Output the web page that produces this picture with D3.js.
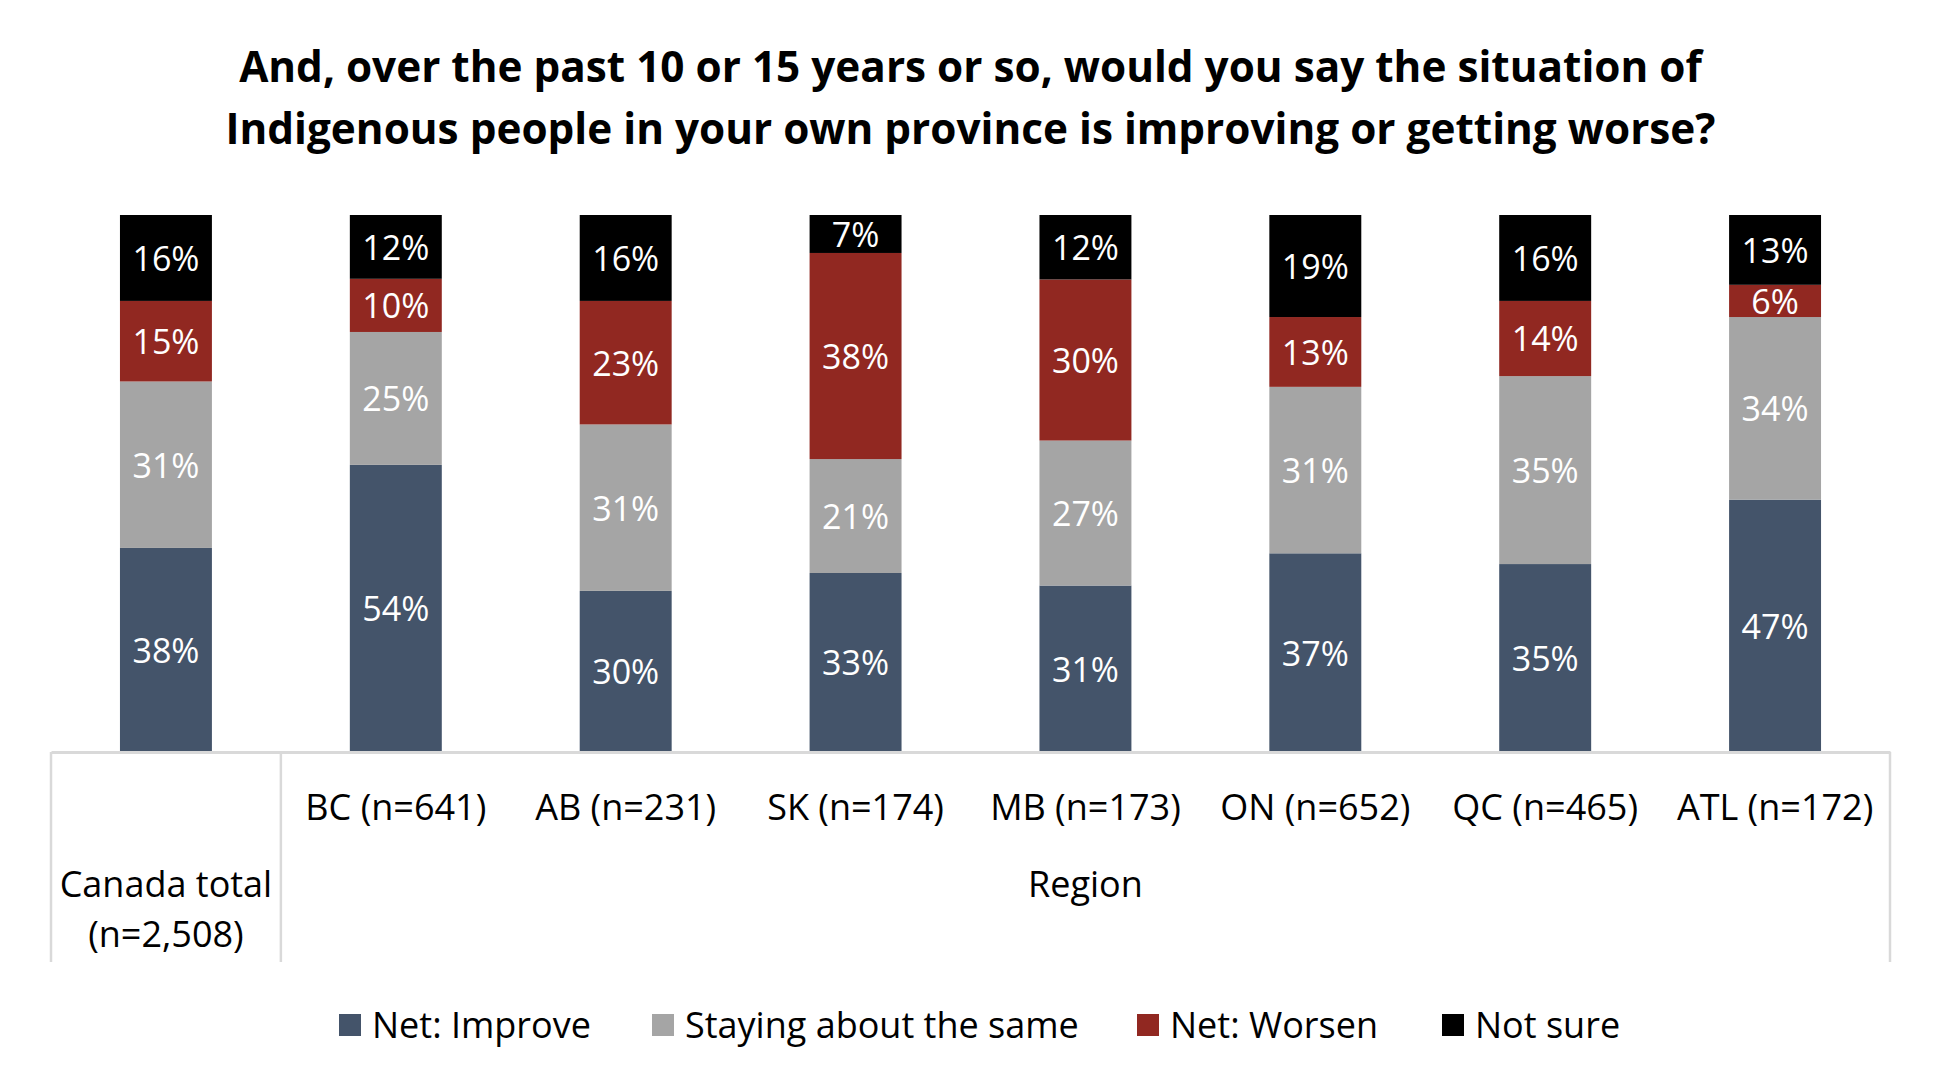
<!DOCTYPE html>
<html>
<head>
<meta charset="utf-8">
<script src="https://cdn.jsdelivr.net/npm/d3@7"></script>
<style>
  body { margin: 0; background: #fff; }
  text { font-family: "Open Sans", "Noto Sans", sans-serif; }
</style>
</head>
<body>
<div id="chart"></div>
<script>
var categories = ["Canada total", "BC (n=641)", "AB (n=231)", "SK (n=174)", "MB (n=173)", "ON (n=652)", "QC (n=465)", "ATL (n=172)"];
var seriesNames = ["Net: Improve", "Staying about the same", "Net: Worsen", "Not sure"];
var improve = [38, 54, 30, 33, 31, 37, 35, 47];
var same    = [31, 25, 31, 21, 27, 31, 35, 34];
var worsen  = [15, 10, 23, 38, 30, 13, 14, 6];
var notSure = [16, 12, 16, 7, 12, 19, 16, 13];
var colors = ["#44546A", "#A5A5A5", "#912821", "#000000"];
var titleLines = ["And, over the past 10 or 15 years or so, would you say the situation of",
                  "Indigenous people in your own province is improving or getting worse?"];

var width = 1941, height = 1090;
var margin = { top: 215, bottom: 338, left: 51, right: 51 };

var data = categories.map(function (c, i) {
  return { cat: c, "Net: Improve": improve[i], "Staying about the same": same[i],
           "Net: Worsen": worsen[i], "Not sure": notSure[i] };
});

var svg = d3.select("#chart").append("svg")
  .attr("width", width)
  .attr("height", height);

// title
svg.append("g")
  .selectAll("text")
  .data(titleLines)
  .join("text")
  .attr("x", width / 2)
  .attr("y", (d, i) => 82 + i * 62)
  .attr("text-anchor", "middle")
  .attr("font-size", 42.3)
  .attr("font-weight", "bold")
  .attr("fill", "#000")
  .text((d) => d);

x = d3.scaleBand()
  .domain(categories)
  .range([margin.left, width - margin.right])
  .paddingInner(0.6)
  .paddingOuter(0.3);

y = d3.scaleLinear()
  .domain([0, 1])
  .range([height - margin.bottom, margin.top]);

var color = d3.scaleOrdinal().domain(seriesNames).range(colors);

// 100% stacked
var stacked = d3.stack().keys(seriesNames).offset(d3.stackOffsetExpand)(data);

var layers = svg.append("g")
  .selectAll("g")
  .data(stacked)
  .join("g")
  .attr("fill", (d) => color(d.key));

layers.selectAll("rect")
  .data((d) => d)
  .join("rect")
  .attr("x", (d) => x(d.data.cat))
  .attr("y", (d) => y(d[1]))
  .attr("width", x.bandwidth())
  .attr("height", (d) => y(d[0]) - y(d[1]));

// value labels
svg.append("g")
  .selectAll("g")
  .data(stacked)
  .join("g")
  .selectAll("text")
  .data((d) => d.map((v) => ({ key: d.key, v: v })))
  .join("text")
  .attr("x", (d) => x(d.v.data.cat) + x.bandwidth() / 2)
  .attr("y", (d) => (y(d.v[0]) + y(d.v[1])) / 2)
  .attr("dy", "0.38em")
  .attr("text-anchor", "middle")
  .attr("font-size", 34)
  .attr("fill", "#fff")
  .text((d) => d.v.data[d.key] + "%");

// x axis (two levels)
var step = x.step();
var axisY = height - margin.bottom;

xAxis = (g) =>
  g.attr("transform", `translate(0,${axisY})`)
    .call(d3.axisBottom(x).tickSize(0).tickSizeOuter(0)
      .tickFormat((d) => (d == categories[0] ? "" : d)))
    .call((g) => g.select(".domain").attr("stroke", "#D9D9D9").attr("stroke-width", 3))
    .call((g) => g.selectAll(".tick text")
      .attr("y", 42)
      .attr("font-size", 36)
      .attr("font-family", "Open Sans, Noto Sans, sans-serif")
      .attr("fill", "#000"));

svg.append("g").attr("class", "xAxis").call(xAxis);

// group separators
var sepX = [x.range()[0], x(categories[1]) - step * x.paddingInner() / 2, x.range()[1]];
svg.append("g")
  .selectAll("line")
  .data(sepX)
  .join("line")
  .attr("x1", (d) => d)
  .attr("x2", (d) => d)
  .attr("y1", axisY)
  .attr("y2", axisY + 210)
  .attr("stroke", "#D9D9D9")
  .attr("stroke-width", 2.5);

// group labels
var canadaX = x(categories[0]) + x.bandwidth() / 2;
svg.append("text")
  .attr("x", canadaX)
  .attr("y", axisY + 145)
  .attr("text-anchor", "middle")
  .attr("font-size", 36)
  .text("Canada total");
svg.append("text")
  .attr("x", canadaX)
  .attr("y", axisY + 195)
  .attr("text-anchor", "middle")
  .attr("font-size", 36)
  .text("(n=2,508)");

svg.append("text")
  .attr("x", (sepX[1] + sepX[2]) / 2)
  .attr("y", axisY + 145)
  .attr("text-anchor", "middle")
  .attr("font-size", 36)
  .text("Region");

// legend
var legendX = [339, 652, 1137, 1442];
var legend = svg.append("g")
  .selectAll("g")
  .data(seriesNames)
  .join("g")
  .attr("transform", (d, i) => `translate(${legendX[i]},1014)`);

legend.append("rect")
  .attr("width", 22)
  .attr("height", 22)
  .attr("fill", (d) => color(d));

legend.append("text")
  .attr("x", 33)
  .attr("y", 11)
  .attr("dy", "0.36em")
  .attr("font-size", 36)
  .attr("fill", "#000")
  .text((d) => d);
</script>
</body>
</html>
